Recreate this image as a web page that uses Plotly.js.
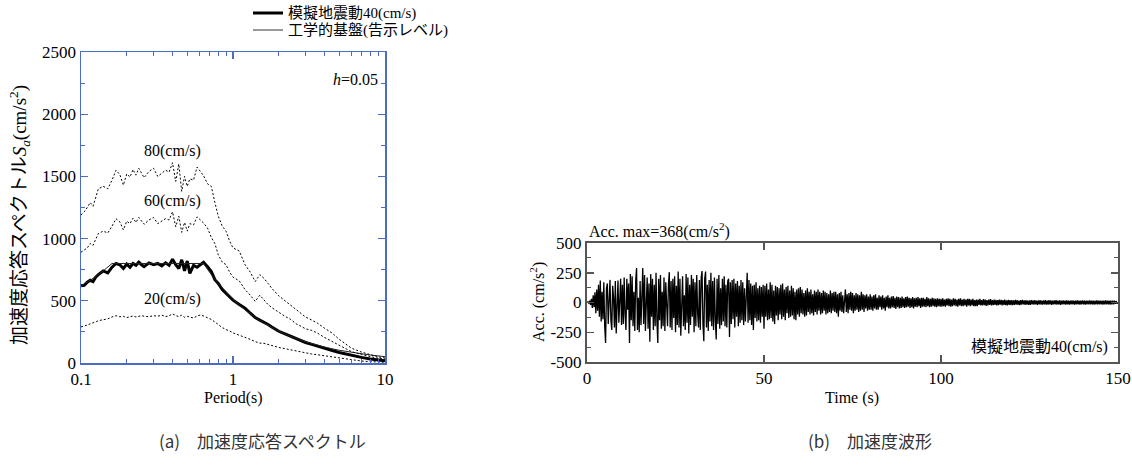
<!DOCTYPE html>
<html><head><meta charset="utf-8">
<script src="https://cdn.plot.ly/plotly-3.0.1.min.js"></script>
<style>html,body{margin:0;padding:0;background:#fff}#chart{width:1132px;height:469px}</style>
</head><body><div id="chart"></div>
<script>
// ---- Data: response spectra (h=0.05) ----
const periods = [0.10,0.105,0.11,0.115,0.12,0.125,0.13,0.14,0.15,0.16,0.17,0.18,0.19,0.20,0.21,0.22,0.23,0.24,0.25,0.26,0.28,0.30,0.32,0.34,0.36,0.38,0.40,0.42,0.44,0.46,0.48,0.50,0.52,0.55,0.58,0.61,0.64,0.68,0.72,0.76,0.80,0.85,0.90,0.95,1.0,1.1,1.2,1.3,1.4,1.5,1.6,1.7,1.8,2.0,2.2,2.4,2.6,2.8,3.0,3.3,3.6,4.0,4.5,5.0,5.5,6.0,7.0,8.0,9.0,10.0];
const sa40 = [620,625,650,665,655,690,710,740,725,770,800,790,760,795,770,800,785,810,790,775,805,790,800,780,805,785,835,790,760,830,740,820,720,785,770,790,810,775,735,670,640,590,560,530,505,470,440,400,365,345,330,310,290,255,235,215,195,180,165,150,135,118,100,85,72,60,45,32,24,18];
const sa20 = [290,295,305,315,320,330,340,350,355,370,380,372,375,365,372,378,370,375,380,376,372,380,376,385,372,380,395,382,372,385,368,375,370,362,378,386,378,365,350,330,308,285,268,258,242,225,205,190,172,160,158,148,138,125,115,105,96,90,82,72,66,58,48,38,30,24,16,11,8,6];
const sa60 = [890,905,925,960,945,995,1040,1060,1045,1100,1160,1135,1070,1140,1120,1165,1130,1170,1140,1115,1150,1170,1120,1140,1160,1150,1215,1095,1180,1050,1130,1060,1120,1110,1175,1150,1125,1085,1010,960,870,810,790,730,690,660,590,545,495,545,505,470,445,405,375,350,315,295,275,262,240,205,172,140,112,92,68,50,38,30];
const sa80 = [1190,1215,1250,1290,1260,1330,1400,1420,1400,1470,1550,1515,1430,1520,1495,1555,1510,1565,1520,1490,1540,1565,1500,1525,1550,1535,1610,1460,1600,1380,1500,1420,1480,1470,1575,1540,1505,1440,1420,1290,1180,1100,1060,980,925,900,790,730,655,710,680,640,600,540,500,470,430,400,370,345,320,280,240,190,150,120,88,65,50,40];
const kokujiPeriods = [0.1,0.12,0.14,0.16,0.64,0.7,0.8,0.9,1.0,1.2,1.5,2,2.5,3,4,5,6,7,8,10];
const kokujiSa = [620,680,740,800,800,731,640,569,512,427,341,256,205,171,128,102,85,73,64,51];
const seriesNames = ['模擬地震動40(cm/s)','工学的基盤(告示レベル)'];
const curveLabels = ['80(cm/s)','60(cm/s)','20(cm/s)'];
const xTickVals = [0.1,1,10];
const xTickText = ['0.1','1','10'];
const xMinorVals = [0.2,0.3,0.4,0.5,0.6,0.7,0.8,0.9,2,3,4,5,6,7,8,9];

// ---- Data: acceleration waveform (sampled every 0.25 s) ----
const waveStart = 0;
const waveDt = 0.25;
const acc = [
0,5,-8,15,-20,30,-45,60,-40,85,-90,110,-70,150,-120,185,-160,90,-140,170,
-200,-340,120,160,-180,60,190,-150,-230,140,40,-210,180,-260,120,185,-170,30,200,-190,
150,-180,210,-100,-230,200,-60,160,-340,240,-150,220,-200,90,-240,180,290,-230,40,-250,
180,-190,120,290,-180,230,-240,70,210,-220,160,-330,240,-120,200,-230,150,-200,250,-160,
-340,200,-150,230,-220,90,-200,210,-240,170,-60,-200,150,255,-210,180,-230,200,-130,220,
-250,140,-190,260,-210,200,-280,120,220,-200,60,-230,240,-170,210,-260,150,-190,230,-120,
200,-250,170,-200,230,-90,-210,190,-230,210,265,-180,-325,200,260,-210,150,-240,190,-160,
250,-200,180,-230,210,-150,-310,200,-180,230,-220,120,-190,200,-160,220,-200,150,-210,180,
200,-290,170,-180,190,-140,200,-210,160,-120,180,-200,140,-170,190,-150,170,-190,120,-160,
160,250,-170,190,-150,160,-190,140,-230,150,-130,170,-160,120,-150,140,-170,130,-120,150,
-220,140,-120,160,-150,110,-140,170,-130,150,-160,100,-180,140,-110,130,-150,120,-100,150,
-140,160,-120,110,-150,130,-90,140,-130,100,-120,140,-110,120,-140,90,-150,110,-100,120,
-120,130,-90,110,-100,80,-120,100,-110,120,-80,90,-100,110,-90,70,-110,100,-80,90,
-100,110,-70,90,-100,80,-90,100,-70,90,-100,80,-90,70,-80,100,-90,80,-70,90,
-80,90,-90,70,-120,80,-70,90,-80,60,-90,80,110,-80,70,-90,80,-60,90,-70,
80,-90,60,-70,80,-60,70,-80,60,-70,90,-60,70,-80,60,-50,70,-70,50,-60,
70,-60,50,-70,60,-50,70,-60,40,-60,60,-40,50,-60,60,-50,40,-70,50,-40,
60,-50,40,-50,50,-40,55,-45,40,-55,50,-40,45,-50,40,-45,50,-40,35,-45,
45,-40,50,-35,40,-45,35,-40,45,-50,35,-35,40,-40,45,-30,35,-45,40,-35,
40,-35,30,-40,45,-30,35,-40,30,-35,40,-30,35,-35,30,-40,35,-30,30,-35,
30,-35,35,-30,25,-35,30,-25,35,-30,30,-35,25,-30,35,-25,30,-30,25,-35,
30,-25,35,-30,25,-30,30,-25,25,-35,30,-25,30,-30,25,-25,30,-30,20,-30,
25,-30,25,-20,30,-25,20,-25,28,-22,25,-28,20,-25,25,-20,28,-25,20,-22,
25,-20,22,-25,20,-22,25,-18,22,-25,20,-20,24,-22,18,-25,22,-20,20,-22,
20,-22,18,-20,22,-18,20,-20,15,-22,20,-18,22,-15,18,-20,20,-18,15,-20,
18,-20,20,-15,18,-18,20,-15,15,-20,18,-16,20,-18,15,-18,18,-15,20,-18,
15,-18,20,-15,18,-20,15,-16,18,-15,20,-18,15,-15,18,-20,16,-15,18,-16,
15,-18,18,-15,16,-18,15,-15,18,-16,15,-18,16,-15,18,-15,15,-18,16,-15,
18,-15,15,-18,16,-16,15,-15,18,-15,15,-16,16,-18,15,-15,18,-15,15,-16,
16,-15,15,-18,15,-16,18,-15,15,-15,16,-18,15,-15,16,-15,15,-12,12,-10,
0];
const accMaxLabel = 'Acc. max=368(cm/s<sup>2</sup>)';
const waveName = '模擬地震動40(cm/s)';
const y2TickVals = [-500,-250,0,250,500];
const y2TickText = ['-500','-250','0','250','500'];
const axisTitles = ['Period(s)','加速度応答スペクトル<i>S</i><sub><i>a</i></sub>(cm/s<sup>2</sup>)','Time (s)','Acc. (cm/s<sup>2</sup>)'];
const captions = ['(a)　加速度応答スペクトル','(b)　加速度波形'];

const time = acc.map((_, i) => waveStart + i * waveDt);

// ---- Layout helpers ----
const W = 1132, H = 469;
const px = x => x / W;
const py = y => 1 - y / H;
const BLUE = '#4a6cc2';
const FRAME = '#555555';
const SERIF = '"Liberation Serif", "Noto Sans CJK JP", serif';
const JP = '"Noto Sans CJK JP", sans-serif';

const dashStyle = {color:'#000', width:1, dash:'2px,2px'};
const traces = [
  {x: periods, y: sa40, type:'scatter', mode:'lines', name: seriesNames[0], showlegend:false, line:{color:'#000', width:3}, xaxis:'x', yaxis:'y'},
  {x: kokujiPeriods, y: kokujiSa, type:'scatter', mode:'lines', name: seriesNames[1], showlegend:false, line:{color:'#222', width:1}, xaxis:'x', yaxis:'y'},
  {x: periods, y: sa80, type:'scatter', mode:'lines', showlegend:false, line: dashStyle, xaxis:'x', yaxis:'y'},
  {x: periods, y: sa60, type:'scatter', mode:'lines', showlegend:false, line: dashStyle, xaxis:'x', yaxis:'y'},
  {x: periods, y: sa20, type:'scatter', mode:'lines', showlegend:false, line: dashStyle, xaxis:'x', yaxis:'y'},
  {x: time, y: acc, type:'scatter', mode:'lines', showlegend:false, line:{color:'#000', width:1.3}, xaxis:'x2', yaxis:'y2'}
];

const layout = {
  width: W, height: H,
  margin: {l:0, r:0, t:0, b:0},
  paper_bgcolor:'#fff', plot_bgcolor:'#fff',
  font: {family: SERIF, size: 16, color:'#000'},
  showlegend: false,
  xaxis: {type:'log', domain:[px(81), px(385)], range:[-1, 1], anchor:'y',
          tickmode:'array', tickvals: xTickVals, ticktext: xTickText,
          ticks:'inside', ticklen:7, tickwidth:1.2, tickcolor: BLUE,
          showline:true, linecolor: BLUE, linewidth:1.5, mirror:'ticks',
          showgrid:false, zeroline:false,
          minor:{tickmode:'array', tickvals: xMinorVals, ticks:'inside', ticklen:4, tickcolor: BLUE, tickwidth:1, showgrid:false},
          tickfont:{family: SERIF, size:17}},
  yaxis: {domain:[py(363), py(52)], range:[0, 2500], anchor:'x',
          tickmode:'linear', tick0:0, dtick:500,
          ticks:'inside', ticklen:7, tickwidth:1.2, tickcolor: BLUE,
          showline:true, linecolor: BLUE, linewidth:1.5, mirror:'ticks',
          showgrid:false, zeroline:false,
          minor:{dtick:250, ticks:'inside', ticklen:4, tickcolor: BLUE, tickwidth:1, showgrid:false},
          tickfont:{family: SERIF, size:17}},
  xaxis2: {domain:[px(587), px(1118)], range:[0, 150], anchor:'y2',
          tickmode:'linear', tick0:0, dtick:50,
          ticks:'inside', ticklen:7, tickwidth:1.5, tickcolor: FRAME,
          showline:true, linecolor: FRAME, linewidth:2, mirror:'ticks',
          showgrid:false, zeroline:false,
          tickfont:{family: SERIF, size:17}},
  yaxis2: {domain:[py(362), py(243)], range:[-500, 500], anchor:'x2',
          tickmode:'array', tickvals: y2TickVals, ticktext: y2TickText,
          ticks:'inside', ticklen:7, tickwidth:1.5, tickcolor: FRAME,
          showline:true, linecolor: FRAME, linewidth:2, mirror:'ticks',
          showgrid:false, zeroline:false,
          minor:{dtick:125, ticks:'inside', ticklen:4, tickcolor: FRAME, tickwidth:1, showgrid:false},
          tickfont:{family: SERIF, size:17}},
  shapes: [
    {type:'line', xref:'paper', yref:'paper', x0: px(253), x1: px(283), y0: py(13), y1: py(13), line:{color:'#000', width:3}},
    {type:'line', xref:'paper', yref:'paper', x0: px(253), x1: px(283), y0: py(30), y1: py(30), line:{color:'#555', width:1.2}}
  ],
  annotations: [
    {text: seriesNames[0], xref:'paper', yref:'paper', x: px(286), y: py(13), xanchor:'left', yanchor:'middle', showarrow:false, font:{family: SERIF, size:15}},
    {text: seriesNames[1], xref:'paper', yref:'paper', x: px(286), y: py(30), xanchor:'left', yanchor:'middle', showarrow:false, font:{family: SERIF, size:15}},
    {text: axisTitles[0], xref:'paper', yref:'paper', x: px(233), y: py(398), xanchor:'center', yanchor:'middle', showarrow:false, font:{family: SERIF, size:16}},
    {text: axisTitles[1], xref:'paper', yref:'paper', x: px(19), y: py(215), xanchor:'center', yanchor:'middle', textangle:-90, showarrow:false, font:{family: SERIF, size:19}},
    {text: axisTitles[2], xref:'paper', yref:'paper', x: px(852), y: py(398), xanchor:'center', yanchor:'middle', showarrow:false, font:{family: SERIF, size:16}},
    {text: axisTitles[3], xref:'paper', yref:'paper', x: px(537), y: py(302), xanchor:'center', yanchor:'middle', textangle:-90, showarrow:false, font:{family: SERIF, size:16}},
    {text: curveLabels[0], xref:'x', yref:'y', x: Math.log10(0.4), y: 1707, showarrow:false, font:{family: SERIF, size:16}},
    {text: curveLabels[1], xref:'x', yref:'y', x: Math.log10(0.4), y: 1301, showarrow:false, font:{family: SERIF, size:16}},
    {text: curveLabels[2], xref:'x', yref:'y', x: Math.log10(0.4), y: 511, showarrow:false, font:{family: SERIF, size:16}},
    {text: '<i>h</i>=0.05', xref:'x domain', yref:'y domain', x: 0.985, y: 0.91, xanchor:'right', yanchor:'middle', showarrow:false, font:{family: SERIF, size:16}},
    {text: accMaxLabel, xref:'x2 domain', yref:'y2 domain', x: 0, y: 1.0, xanchor:'left', yanchor:'bottom', showarrow:false, font:{family: SERIF, size:16}},
    {text: waveName, xref:'x2 domain', yref:'y2 domain', x: 0.985, y: 0.03, xanchor:'right', yanchor:'bottom', showarrow:false, font:{family: SERIF, size:16}, bgcolor:'#fff'},
    {text: captions[0], xref:'paper', yref:'paper', x: px(262), y: py(440), xanchor:'center', yanchor:'middle', showarrow:false, font:{family: JP, size:17, color:'#333'}},
    {text: captions[1], xref:'paper', yref:'paper', x: px(870), y: py(440), xanchor:'center', yanchor:'middle', showarrow:false, font:{family: JP, size:17, color:'#333'}}
  ]
};

Plotly.newPlot('chart', traces, layout, {staticPlot:true, displayModeBar:false});
</script>
</body></html>
